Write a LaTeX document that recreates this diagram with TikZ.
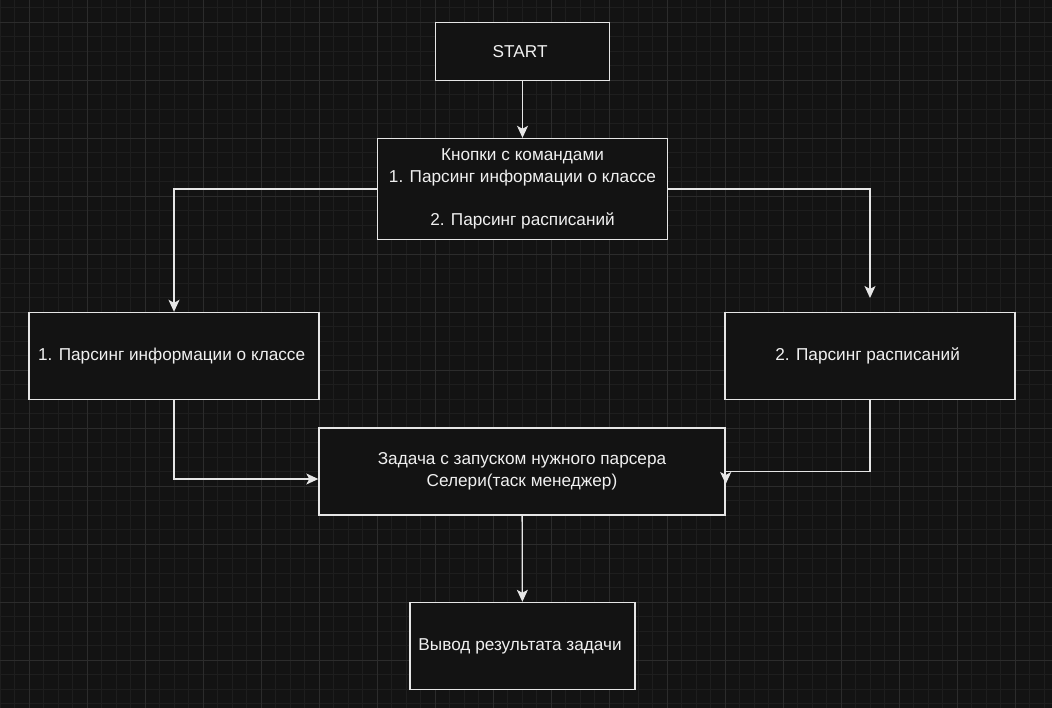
\documentclass[tikz,border=0pt]{standalone}
\usepackage{fontspec}
\setmainfont{Liberation Sans}
\usetikzlibrary{arrows.meta}
\definecolor{bgdark}{HTML}{131313}
\definecolor{gridminor}{HTML}{1E1E1E}
\definecolor{gridmajor}{HTML}{2C2C2C}
\definecolor{edgelight}{HTML}{E6E6E6}
\definecolor{textlight}{HTML}{F0F0F0}
\begin{document}
\begin{tikzpicture}[x=1pt, y=-1pt,
    block/.style={draw=edgelight, line width=1.4pt, fill=bgdark, text=textlight,
        align=center, inner sep=0pt, font=\fontsize{17.2}{21.5}\selectfont},
    flow/.style={draw=edgelight, line width=1.3pt,
        -{Stealth[length=12pt, width=11pt, inset=3pt]}}]
        % background and grid
        \fill[bgdark] (0,0) rectangle (1052,708);
        \useasboundingbox (0,0) rectangle (1052,708);
        \foreach \i in {0,...,72}
            \draw[gridminor, line width=0.8pt] (\i*14.5,0) -- (\i*14.5,708);
        \foreach \j in {0,...,48}
            \draw[gridminor, line width=0.8pt] (0,7.5+\j*14.5) -- (1052,7.5+\j*14.5);
        \foreach \i in {0,...,17}
            \draw[gridmajor, line width=0.9pt] (29+\i*58,0) -- (29+\i*58,708);
        \foreach \j in {0,...,11}
            \draw[gridmajor, line width=0.9pt] (0,22+\j*58) -- (1052,22+\j*58);
        % boxes
        \node[block, minimum width=174pt, minimum height=58pt] (START) at (522.5,51.5) {
            START
        };
        \node[block, minimum width=290pt, minimum height=101pt] (KNOPKI) at (522.5,189) {
            Кнопки с командами\\1. Парсинг информации о классе\\[21.5pt]2. Парсинг расписаний
        };
        \node[block, minimum width=290pt, minimum height=87pt] (PCLASS) at (174,356) {
            1. Парсинг информации о классе
        };
        \node[block, minimum width=290pt, minimum height=87pt] (PSCHED) at (870,356) {
            2. Парсинг расписаний
        };
        \node[block, minimum width=406pt, minimum height=87pt] (TASK) at (522,471.5) {
            Задача с запуском нужного парсера\\Селери(таск менеджер)
        };
        \node[block, minimum width=225pt, minimum height=87pt] (RESULT) at (522.5,646) {
            Вывод результата задачи
        };
        \coordinate (SCHEDIN) at (870,298);
        % connectors
        \draw[flow] (START) -- (KNOPKI);
        \draw[flow] (KNOPKI) -| (PCLASS);
        \draw[flow] (KNOPKI) -| (SCHEDIN);
        \draw[flow] (PCLASS) |- ([yshift=-7.5pt]TASK.west);
        \draw[flow] (PSCHED) |- (TASK.east) -- ++(0,12.5);
        \draw[flow] (TASK) -- (RESULT);
\end{tikzpicture}
\end{document}
